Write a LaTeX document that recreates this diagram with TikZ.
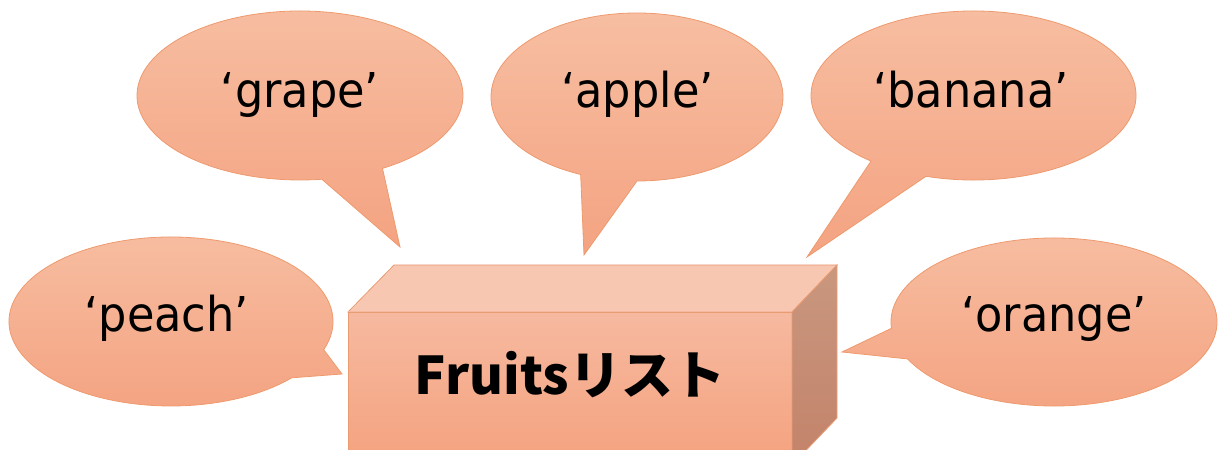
\documentclass[tikz,border=0pt]{standalone}
\usepackage{fontspec}
\setmainfont{DejaVu Sans}[FakeStretch=0.93]
\newfontfamily\jpfont{Noto Sans CJK JP}
\usetikzlibrary{calc}

\definecolor{bubtop}{HTML}{F7BEA2}
\definecolor{bubbot}{HTML}{F4A381}
\definecolor{bubedge}{HTML}{EE9A6E}
\definecolor{lidfill}{HTML}{F8C7B2}
\definecolor{fronttop}{HTML}{F6B9A0}
\definecolor{frontbot}{HTML}{F5A27E}
\definecolor{sidetop}{HTML}{C9977F}
\definecolor{sidebot}{HTML}{C3836A}
\definecolor{boxedge}{HTML}{E99C72}

\tikzset{
  bubble/.style={draw=bubedge, line width=0.6pt, top color=bubtop, bottom color=bubbot, line join=miter},
  word/.style={font=\fontsize{36}{41}\selectfont, text=black, inner sep=0pt, anchor=base},
  boxface/.style={draw=boxedge, line width=0.6pt, line join=miter},
  title/.style={font=\jpfont\bfseries\fontsize{39}{44}\selectfont, text=black, inner sep=0pt, anchor=base}
}

% speech bubble: centre x, centre y, x radius, y radius, arc start, arc end, tail tip
\newcommand\bubblepath[7]{%
  \draw[bubble] ($(#1,#2)+({#3*cos(#5)},{#4*sin(#5)})$)
    arc[start angle=#5, end angle=#6, x radius=#3, y radius=#4] -- (#7) -- cycle;}

\begin{document}
\begin{tikzpicture}[x=0.75pt, y=0.75pt]
\useasboundingbox (0,0) rectangle (1218,450);
\clip (0,0) rectangle (1218,450);

% tail tips
\coordinate (peach-tip)  at (342,76);
\coordinate (grape-tip)  at (400,203);
\coordinate (apple-tip)  at (584,195);
\coordinate (banana-tip) at (807,193);
\coordinate (orange-tip) at (842,98);

% bubbles
\bubblepath{171}{128.5}{162}{84.5}{-19.5}{318.2}{peach-tip}
\bubblepath{300}{354.5}{163}{84.5}{-59.6}{277.7}{grape-tip}
\bubblepath{637}{353}{146}{84}{-90}{247.3}{apple-tip}
\bubblepath{973.5}{354.5}{162.5}{84.5}{-107}{230.9}{banana-tip}
\bubblepath{1054}{128}{163}{84}{206.1}{544.3}{orange-tip}

\node[word] (peach)  at (166.7,118.3) {‘peach’};
\node[word] (grape)  at (300,342)     {‘grape’};
\node[word] (apple)  at (637.5,342)   {‘apple’};
\node[word] (banana) at (971,342)     {‘banana’};
\node[word] (orange) at (1054,118.3)  {‘orange’};

% the box
\coordinate (fl)  at (348,138);
\coordinate (fr)  at (792,138);
\coordinate (bl)  at (394,185);
\coordinate (br)  at (837,185);
\coordinate (fbl) at (348,-15);
\coordinate (fbr) at (792,-15);
\coordinate (bbr) at (837,32);

\draw[boxface, fill=lidfill] (fl) -- (bl) -- (br) -- (fr) -- cycle;
\draw[boxface, top color=fronttop, bottom color=frontbot] (fl) -- (fr) -- (fbr) -- (fbl) -- cycle;
\draw[boxface, top color=sidetop, bottom color=sidebot] (fr) -- (br) -- (bbr) -- (fbr) -- cycle;

\node[title] (list) at (570,55) {Fruitsリスト};
\end{tikzpicture}
\end{document}
